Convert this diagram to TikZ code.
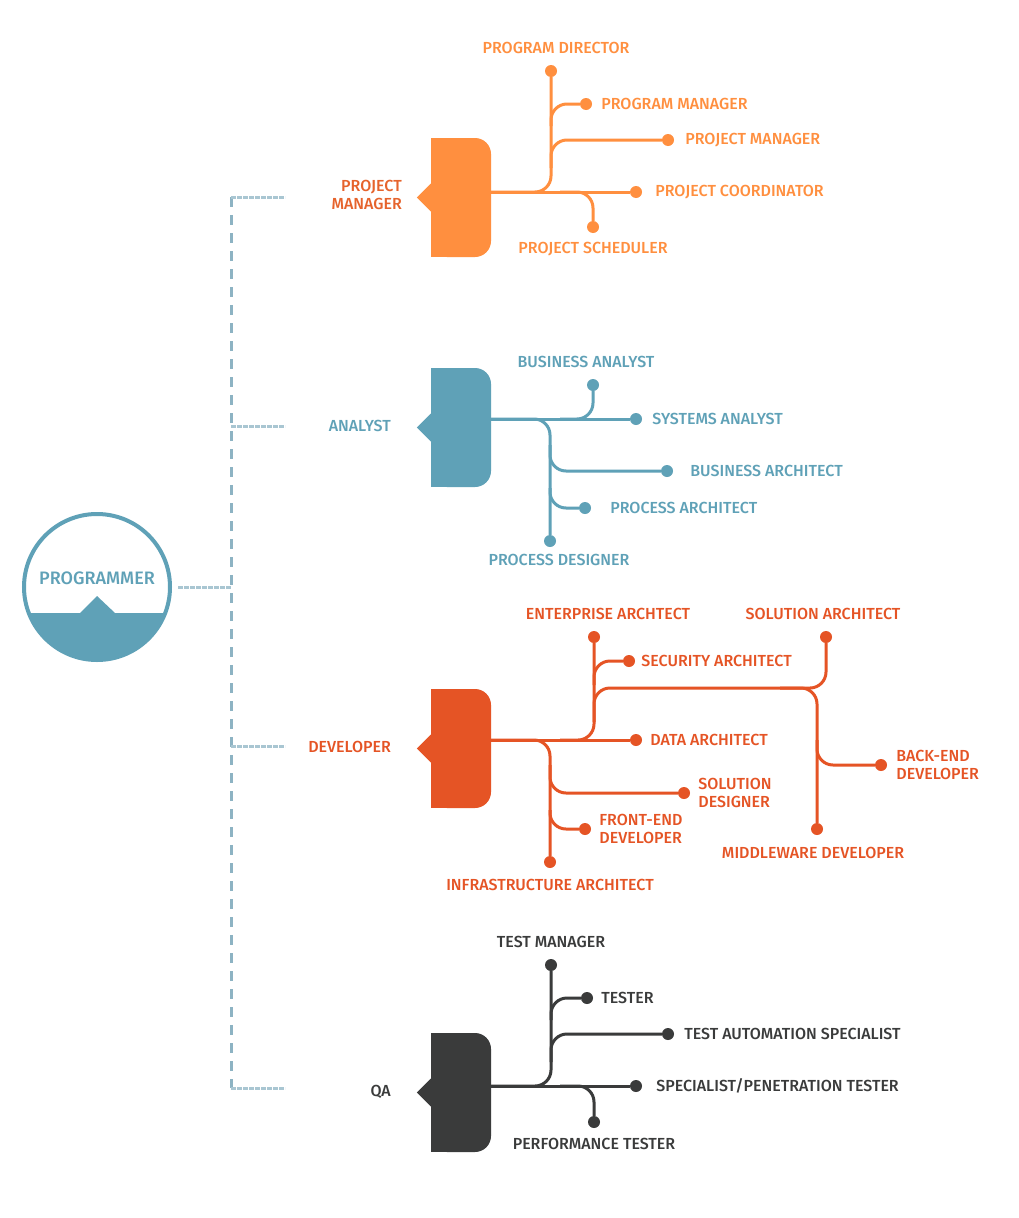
\documentclass[tikz,border=0pt]{standalone}
\usepackage{fontspec}
\setmainfont{Fira Sans}[UprightFont=* Medium]
\usetikzlibrary{positioning,calc}

\definecolor{pmorange}{HTML}{FF8F3F}
\definecolor{pmdark}{HTML}{E6632C}
\definecolor{anteal}{HTML}{5FA1B7}
\definecolor{devred}{HTML}{E55425}
\definecolor{qagrey}{HTML}{3A3B3B}
\definecolor{spineblue}{HTML}{8DB3C3}
\definecolor{ticklight}{HTML}{A9C6D2}

\begin{document}
\begin{tikzpicture}[x=1pt, y=-1pt,
  lbl/.style={font=\fontsize{16}{18}\selectfont, inner sep=0pt, align=left},
  leaf/.style={circle, fill, inner sep=0pt, minimum size=12pt},
  br/.style={line width=3pt, rounded corners=16pt},
  blk/.style={rectangle, rounded corners=16pt, minimum width=60pt, minimum height=119pt, inner sep=0pt},
  spinedash/.style={spineblue, line width=3pt, dash pattern=on 10pt off 8pt},
  spinetick/.style={ticklight, line width=3pt, dash pattern=on 5pt off 1pt}]

\fill[white] (0,0) rectangle (1018,1218);
\useasboundingbox (0,0) rectangle (1018,1218);

% the programmer dial
\node[circle, draw=anteal, line width=4pt, minimum size=146pt, inner sep=0pt] (prog) at (97,587) {};
\begin{scope}
  \clip (prog.center) circle (73pt);
  \fill[anteal] (0,613) -- (80,613) -- (97,596) -- (115,613) -- (200,613) -- (200,700) -- (0,700) -- cycle;
\end{scope}
\node[lbl, anteal, font=\fontsize{18}{20}\selectfont] (progl) at (97,578) {PROGRAMMER};

% dashed spine and its ticks
\coordinate (sp-prog) at (231,587);
\draw[spinetick] ([xshift=6pt]prog.east) -- (sp-prog);
\draw[spinedash] (231,197) -- (231,1088);
\foreach \y/\nm in {197/pm,426/an,746/dv,1088/qa} {
  \coordinate (sp-\nm) at (231,\y);
  \coordinate (tk-\nm) at (285,\y);
  \draw[spinetick] (sp-\nm) -- (tk-\nm);
}

% the four blocks with their notch
\foreach \nm/\col/\y in {pm/pmorange/197.5, an/anteal/427.5, dv/devred/748.5, qa/qagrey/1092.5} {
  \node[blk, fill=\col] (\nm) at (461,\y) {};
  \fill[\col] (\nm.north west) rectangle (\nm.south);
  \fill[\col] ($(\nm.west)+(0,-14)$) -- ++(-14,14) -- ++(14,14) -- cycle;
}

\node[lbl, pmdark, align=right, anchor=east] (pml) at (402,195) {PROJECT\\MANAGER};
\node[lbl, anteal, anchor=east] (anl) at (391,426) {ANALYST};
\node[lbl, devred, anchor=east] (dvl) at (391,747) {DEVELOPER};
\node[lbl, qagrey, anchor=east] (qal) at (391,1092) {QA};

% project manager tree
\begin{scope}[pmorange]
\node[leaf] (pmdir) at (551,71) {};
\node[leaf] (pmpgm) at (586,104) {};
\node[leaf] (pmprj) at (668,140) {};
\node[leaf] (pmcoo) at (636,192) {};
\node[leaf] (pmsch) at (593,227) {};
\coordinate (pmj1) at (551,126);
\coordinate (pmj2) at (551,168);
\coordinate (pmj3) at (560,192);
\draw[br] (pm.east |- pmcoo) -- (pmcoo);
\draw[br] (pm.east |- pmcoo) -| (pmdir);
\draw[br] (pmj1) |- (pmpgm);
\draw[br] (pmj2) |- (pmprj);
\draw[br] (pmj3) -| (pmsch);
\node[lbl, above=11pt of pmdir, xshift=5pt] (pmdirl) {PROGRAM DIRECTOR};
\node[lbl, right=9pt of pmpgm] (pmpgml) {PROGRAM MANAGER};
\node[lbl, right=11pt of pmprj] (pmprjl) {PROJECT MANAGER};
\node[lbl, right=13pt of pmcoo] (pmcool) {PROJECT COORDINATOR};
\node[lbl, below=9pt of pmsch] (pmschl) {PROJECT SCHEDULER};
\end{scope}

% analyst tree
\begin{scope}[anteal]
\node[leaf] (anba) at (593,385) {};
\node[leaf] (ansys) at (636,419) {};
\node[leaf] (anbar) at (667,471) {};
\node[leaf] (anpa) at (585,508) {};
\node[leaf] (anpd) at (550,541) {};
\coordinate (anj1) at (560,419);
\coordinate (anj2) at (550,445);
\coordinate (anj3) at (550,488);
\draw[br] (an.east |- ansys) -- (ansys);
\draw[br] (an.east |- ansys) -| (anpd);
\draw[br] (anj1) -| (anba);
\draw[br] (anj2) |- (anbar);
\draw[br] (anj3) |- (anpa);
\node[lbl, above=11pt of anba, xshift=-7pt] (anbal) {BUSINESS ANALYST};
\node[lbl, right=10pt of ansys] (ansysl) {SYSTEMS ANALYST};
\node[lbl, right=17pt of anbar] (anbarl) {BUSINESS ARCHITECT};
\node[lbl, right=19pt of anpa] (anpal) {PROCESS ARCHITECT};
\node[lbl, below=7pt of anpd, xshift=9pt] (anpdl) {PROCESS DESIGNER};
\end{scope}

% developer tree
\begin{scope}[devred]
\node[leaf] (dventr) at (594,637) {};
\node[leaf] (dvsec) at (629,661) {};
\node[leaf] (dvsol) at (826,637) {};
\node[leaf] (dvda) at (636,740) {};
\node[leaf] (dvbe) at (881,765) {};
\node[leaf] (dvmw) at (817,829) {};
\node[leaf] (dvsd) at (684,793) {};
\node[leaf] (dvfe) at (585,829) {};
\node[leaf] (dvinf) at (550,862) {};
\coordinate (dvj1) at (560,740);
\coordinate (dvj2) at (594,685);
\coordinate (dvj3) at (594,722);
\coordinate (dvk) at (826,688);
\coordinate (dvj4) at (780,688);
\coordinate (dvj5) at (817,740);
\coordinate (dvj6) at (550,765);
\coordinate (dvj7) at (550,810);
\draw[br] (dv.east |- dvda) -- (dvda);
\draw[br] (dvj1) -| (dventr);
\draw[br] (dvj2) |- (dvsec);
\draw[br] (dvj3) |- (dvk) -- (dvsol);
\draw[br] (dvj4) -| (dvmw);
\draw[br] (dvj5) |- (dvbe);
\draw[br] (dv.east |- dvda) -| (dvinf);
\draw[br] (dvj6) |- (dvsd);
\draw[br] (dvj7) |- (dvfe);
\node[lbl, above=11pt of dventr, xshift=14pt] (dventrl) {ENTERPRISE ARCHTECT};
\node[lbl, right=6pt of dvsec] (dvsecl) {SECURITY ARCHITECT};
\node[lbl, above=11pt of dvsol, xshift=-3pt] (dvsoll) {SOLUTION ARCHITECT};
\node[lbl, right=8pt of dvda] (dvdal) {DATA ARCHITECT};
\node[lbl, right=9pt of dvbe] (dvbel) {BACK-END\\DEVELOPER};
\node[lbl, below=12pt of dvmw, xshift=-4pt] (dvmwl) {MIDDLEWARE DEVELOPER};
\node[lbl, right=8pt of dvsd] (dvsdl) {SOLUTION\\DESIGNER};
\node[lbl, right=8pt of dvfe] (dvfel) {FRONT-END\\DEVELOPER};
\node[lbl, below=11pt of dvinf] (dvinfl) {INFRASTRUCTURE ARCHITECT};
\end{scope}

% qa tree
\begin{scope}[qagrey]
\node[leaf] (qatm) at (551,965) {};
\node[leaf] (qate) at (587,998) {};
\node[leaf] (qaau) at (668,1034) {};
\node[leaf] (qasp) at (636,1086) {};
\node[leaf] (qapf) at (594,1122) {};
\coordinate (qaj1) at (551,1020);
\coordinate (qaj2) at (551,1062);
\coordinate (qaj3) at (560,1086);
\draw[br] (qa.east |- qasp) -- (qasp);
\draw[br] (qa.east |- qasp) -| (qatm);
\draw[br] (qaj1) |- (qate);
\draw[br] (qaj2) |- (qaau);
\draw[br] (qaj3) -| (qapf);
\node[lbl, above=11pt of qatm] (qatml) {TEST MANAGER};
\node[lbl, right=8pt of qate] (qatel) {TESTER};
\node[lbl, right=10pt of qaau] (qaaul) {TEST AUTOMATION SPECIALIST};
\node[lbl, right=14pt of qasp] (qaspl) {SPECIALIST/PENETRATION TESTER};
\node[lbl, below=10pt of qapf] (qapfl) {PERFORMANCE TESTER};
\end{scope}
\end{tikzpicture}
\end{document}
